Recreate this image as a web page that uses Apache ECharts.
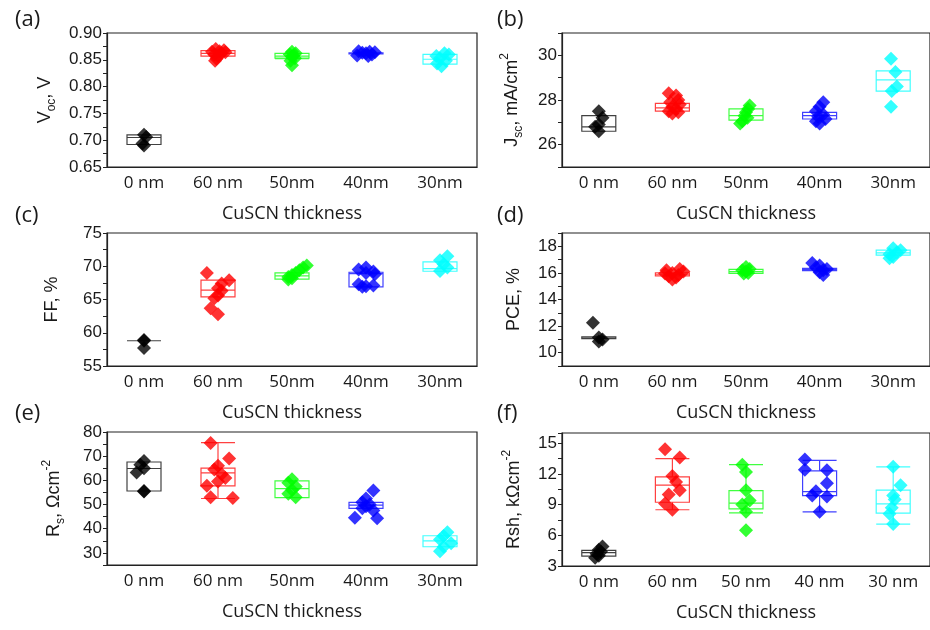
<!DOCTYPE html>
<html><head><meta charset="utf-8">
<script src="https://cdn.jsdelivr.net/npm/echarts@6/dist/echarts.min.js"></script>
<style>html,body{margin:0;padding:0;background:#fff}#c{width:930px;height:630px}</style>
</head><body><div id="c"></div>
<script>
const categories = ['0 nm','60 nm','50nm','40nm','30nm'];
const categoriesF = ['0 nm','60 nm','50 nm','40 nm','30 nm'];
const colors = ['#000000','#ff0000','#00ff00','#0000ff','#00ffff'];
const xTitle = 'CuSCN thickness';

// box stats: [min, Q1, median, Q3, max]
const aBox = [[0.692,0.692,0.705,0.710,0.710],[0.857,0.857,0.862,0.867,0.867],[0.852,0.853,0.857,0.862,0.862],[0.861,0.861,0.862,0.863,0.863],[0.842,0.842,0.851,0.860,0.860]];
const aVals = [[0.710,0.706,0.694,0.690],[0.870,0.868,0.866,0.865,0.864,0.862,0.860,0.857,0.852,0.848],[0.865,0.862,0.860,0.858,0.856,0.853,0.848,0.840],[0.866,0.865,0.864,0.863,0.862,0.860,0.858,0.857],[0.862,0.860,0.857,0.853,0.848,0.843,0.838]];
const aJit = [[0.0,0.03,-0.02,0.0],[-0.03,0.08,0.02,-0.08,0.1,0.05,-0.05,0.0,-0.02,-0.04],[0.0,0.05,-0.03,0.02,0.0,0.04,-0.02,0.0],[-0.1,0.05,0.12,-0.05,0.0,0.08,-0.12,0.03],[0.06,0.12,-0.05,0.0,0.08,-0.04,0.02]];

const bBox = [[26.6,26.6,26.8,27.3,27.3],[27.5,27.5,27.65,27.85,27.85],[27.1,27.1,27.3,27.6,27.6],[27.15,27.15,27.3,27.45,27.45],[28.4,28.4,28.9,29.3,29.3]];
const bVals = [[27.5,27.2,26.9,26.8,26.6],[28.3,28.2,28.0,27.9,27.8,27.7,27.6,27.5,27.45,27.4],[27.75,27.6,27.45,27.3,27.2,27.05,26.95],[27.9,27.7,27.5,27.35,27.25,27.15,27.05,26.95],[29.85,29.25,28.6,28.4,27.7]];
const bJit = [[0.0,0.05,0.0,-0.05,0.0],[-0.05,0.05,0.08,-0.03,0.1,0.0,0.05,-0.05,0.08,0.0],[0.05,0.03,0.0,-0.02,0.02,-0.05,-0.08],[0.05,0.0,-0.05,0.05,-0.02,0.08,-0.05,0.0],[-0.03,0.03,0.05,-0.02,-0.03]];

const cBox = [[58.8,58.8,58.8,58.8,58.8],[65.4,65.4,66.4,67.9,67.9],[68.05,68.05,68.55,69.0,69.0],[66.9,66.9,68.9,69.1,69.1],[69.25,69.25,69.65,70.65,70.65]];
const cVals = [[58.9,58.8,57.7],[69.0,67.9,67.4,66.7,66.3,65.6,65.2,63.7,62.8],[70.1,69.8,69.4,69.0,68.7,68.4,68.2,68.0],[69.8,69.5,69.2,69.0,68.8,67.3,67.1,67.0,66.9],[71.5,70.9,70.3,69.8,69.3]];
const cJit = [[0.0,0.0,0.0],[-0.15,0.15,0.05,0.0,0.05,0.0,-0.05,-0.1,0.0],[0.2,0.15,0.1,0.05,0.0,-0.05,0.0,-0.05],[0.0,-0.1,0.1,0.0,0.12,-0.1,0.1,0.0,-0.05],[0.1,0.0,0.05,0.1,0.0]];

const dBox = [[11.05,11.05,11.1,11.2,11.2],[15.77,15.77,15.9,16.01,16.01],[15.97,15.97,16.1,16.27,16.27],[16.16,16.16,16.25,16.34,16.34],[17.34,17.34,17.5,17.71,17.71]];
const dVals = [[12.25,11.15,11.0,10.85],[16.3,16.2,16.1,16.0,15.95,15.85,15.75,15.65,15.5],[16.45,16.3,16.2,16.1,16.0,15.95],[16.75,16.55,16.4,16.3,16.2,16.05,15.85],[17.85,17.7,17.55,17.4,17.2,17.1]];
const dJit = [[-0.08,0.0,0.05,0.0],[0.1,-0.08,0.15,0.0,-0.1,0.08,-0.05,0.05,0.0],[0.0,0.05,-0.05,0.0,0.03,-0.03],[-0.1,0.0,-0.05,0.1,0.05,0.0,0.05],[0.0,0.1,0.05,-0.05,0.0,-0.05]];

const eBox = [[55.6,55.6,64.9,67.6,67.6],[52.5,57.7,63.1,65.1,75.6],[52.9,52.9,56.6,59.8,59.8],[48.4,48.4,49.75,50.9,50.9],[32.55,32.55,35.0,37.1,37.1]];
const eVals = [[68.0,66.5,65.0,63.3,55.6,55.4],[75.5,69.0,66.0,64.5,62.5,61.0,59.5,57.8,53.0,52.7],[60.5,59.0,57.5,56.0,54.5,53.0],[55.8,52.5,51.0,50.0,49.3,48.5,47.5,44.5,44.3],[38.5,37.0,35.5,34.0,32.5,30.7]];
const eJit = [[0.0,-0.05,0.0,-0.1,0.0,0.0],[-0.1,0.15,0.0,-0.05,0.05,0.1,0.0,-0.15,-0.1,0.2],[0.0,-0.05,0.05,0.0,-0.05,0.05],[0.1,0.0,-0.05,0.05,0.0,-0.05,0.1,-0.15,0.15],[0.1,0.05,0.0,0.15,0.05,0.0]];

const fBox = [[3.97,3.97,4.3,4.52,4.52],[8.5,9.23,10.9,11.71,13.5],[8.2,8.58,9.14,10.36,12.9],[8.3,9.87,10.26,12.29,13.33],[7.1,8.17,9.07,10.42,12.68]];
const fVals = [[4.9,4.6,4.4,4.2,4.0,3.8],[14.4,13.6,11.8,11.2,10.4,10.0,9.1,8.5],[12.9,12.2,10.4,9.4,9.0,8.3,6.5],[13.4,12.4,12.35,11.1,10.3,9.9,9.8,8.3],[12.7,10.9,9.9,9.5,8.7,8.1,7.1]];
const fJit = [[0.05,0.0,0.03,-0.03,0.0,-0.05],[-0.1,0.1,0.0,0.05,0.1,-0.05,-0.1,0.0],[-0.05,0.0,0.0,0.05,-0.05,0.0,0.0],[-0.2,-0.2,0.1,0.1,-0.05,-0.1,0.1,0.0],[0.0,0.1,0.0,0.02,-0.02,-0.05,0.0]];

const panels = [
  {letter:'(a)', box:aBox, vals:aVals, jit:aJit, min:0.65, max:0.90, step:0.025, major:0.05, dec:2, cats:categories,
   name:'{n|V}{s|oc}{n|, V}', gap:49, grid:{left:107, top:33, width:370, height:134}},
  {letter:'(b)', box:bBox, vals:bVals, jit:bJit, min:25, max:31, step:1, major:2, dec:0, cats:categories,
   name:'{n|J}{s|sc}{n|, mA/cm}{p|2}', gap:37, grid:{left:562, top:33, width:370, height:134}},
  {letter:'(c)', box:cBox, vals:cVals, jit:cJit, min:55, max:75, step:2.5, major:5, dec:0, cats:categories,
   name:'{n|FF, %}', gap:44, grid:{left:107, top:233, width:370, height:133}},
  {letter:'(d)', box:dBox, vals:dVals, jit:dJit, min:9, max:19, step:1, major:2, dec:0, cats:categories,
   name:'{n|PCE, %}', gap:37, grid:{left:562, top:233, width:370, height:133}},
  {letter:'(e)', box:eBox, vals:eVals, jit:eJit, min:25, max:80, step:5, major:10, dec:0, cats:categories,
   name:'{n|R}{s|s}{n|, Ωcm}{p|-2}', gap:40, grid:{left:107, top:432, width:370, height:133}},
  {letter:'(f)', box:fBox, vals:fVals, jit:fJit, min:3, max:16, step:1.5, major:3, dec:0, cats:categoriesF,
   name:'{n|Rsh, kΩcm}{p|-2}', gap:35, grid:{left:562, top:433, width:370, height:133}}
];
const letterPos = [[10,4],[492,4],[10,200],[492,200],[10,398],[492,398]];

const FONT = 'Liberation Sans';
const TXT = '#1a1a1a';
const option = {animation:false, backgroundColor:'#fff', grid:[], xAxis:[], yAxis:[], series:[], title:[]};

panels.forEach((p, i) => {
  option.grid.push(Object.assign({show:true, borderColor:'#222', borderWidth:1.2, containLabel:false}, p.grid));
  option.title.push({text:p.letter, left:letterPos[i][0], top:letterPos[i][1],
    textStyle:{fontFamily:'Open Sans', fontSize:22, fontWeight:'normal', color:TXT}});
  option.xAxis.push({type:'category', gridIndex:i, data:p.cats, boundaryGap:true,
    name:xTitle, nameLocation:'middle', nameGap:38,
    nameTextStyle:{fontFamily:'Open Sans', fontSize:18, color:TXT},
    axisLine:{onZero:false, lineStyle:{color:'#222', width:1.2}},
    axisTick:{alignWithLabel:true, length:5, lineStyle:{color:'#222'}},
    axisLabel:{fontFamily:'Open Sans', fontSize:17, color:TXT, margin:8}, splitLine:{show:false}});
  option.xAxis.push({type:'value', gridIndex:i, min:-0.5, max:4.5, show:false, axisLine:{onZero:false}});
  option.yAxis.push({type:'value', gridIndex:i, min:p.min, max:p.max, interval:p.step,
    name:p.name, nameLocation:'middle', nameGap:p.gap,
    nameTextStyle:{rich:{
      n:{fontFamily:FONT, fontSize:18, color:TXT, lineHeight:22},
      s:{fontFamily:FONT, fontSize:12, color:TXT, verticalAlign:'bottom', lineHeight:26},
      p:{fontFamily:FONT, fontSize:12, color:TXT, verticalAlign:'top', lineHeight:26}}},
    axisLine:{show:true, onZero:false, lineStyle:{color:'#222', width:1.2}},
    axisTick:{show:true, length:4, lineStyle:{color:'#222'}},
    axisLabel:{fontFamily:FONT, fontSize:17, color:TXT, margin:5, showMaxLabel:true,
      formatter: v => { const r = v / p.major; return Math.abs(r - Math.round(r)) < 1e-6 ? v.toFixed(p.dec) : ''; }},
    splitLine:{show:false}});
  option.series.push({type:'boxplot', xAxisIndex:2*i, yAxisIndex:i, boxWidth:[34,34], z:2,
    data:p.box.map((b,j)=>({value:b, itemStyle:{color:'rgba(255,255,255,0)', borderColor:colors[j], borderWidth:1.2, opacity:0.75}}))});
  p.vals.forEach((arr, j) => {
    option.series.push({type:'scatter', xAxisIndex:2*i+1, yAxisIndex:i, symbol:'diamond', symbolSize:14, z:5,
      itemStyle:{color:colors[j]},
      data:arr.map((v,k)=>[j + p.jit[j][k], v])});
  });
});

const chart = echarts.init(document.getElementById('c'), null, {renderer:'canvas'});
chart.setOption(option);
</script></body></html>
